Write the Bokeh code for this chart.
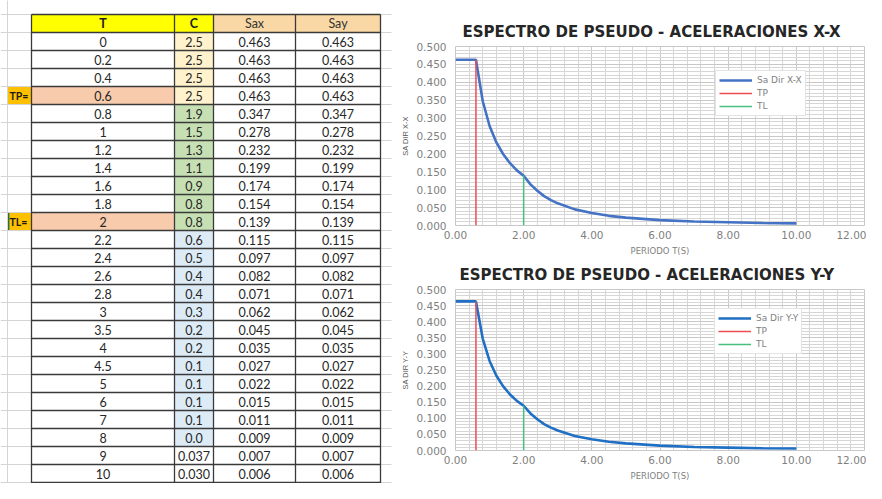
from bokeh.plotting import figure
from bokeh.layouts import row, column
from bokeh.models import (Range1d, SingleIntervalTicker, NumeralTickFormatter,
                          Legend, LegendItem)
from bokeh.core.properties import value
from bokeh.embed import file_html
from bokeh.resources import INLINE

# ---------------- data ----------------
T = [0, 0.2, 0.4, 0.6, 0.8, 1, 1.2, 1.4, 1.6, 1.8, 2, 2.2, 2.4, 2.6, 2.8,
     3, 3.5, 4, 4.5, 5, 6, 7, 8, 9, 10]
T_labels = ["0", "0.2", "0.4", "0.6", "0.8", "1", "1.2", "1.4", "1.6", "1.8",
            "2", "2.2", "2.4", "2.6", "2.8", "3", "3.5", "4", "4.5", "5",
            "6", "7", "8", "9", "10"]
C_labels = ["2.5", "2.5", "2.5", "2.5", "1.9", "1.5", "1.3", "1.1", "0.9",
            "0.8", "0.8", "0.6", "0.5", "0.4", "0.4", "0.3", "0.2", "0.2",
            "0.1", "0.1", "0.1", "0.1", "0.0", "0.037", "0.030"]
Sax = [0.463, 0.463, 0.463, 0.463, 0.347, 0.278, 0.232, 0.199, 0.174, 0.154,
       0.139, 0.115, 0.097, 0.082, 0.071, 0.062, 0.045, 0.035, 0.027, 0.022,
       0.015, 0.011, 0.009, 0.007, 0.006]
Say = [0.463, 0.463, 0.463, 0.463, 0.347, 0.278, 0.232, 0.199, 0.174, 0.154,
       0.139, 0.115, 0.097, 0.082, 0.071, 0.062, 0.045, 0.035, 0.027, 0.022,
       0.015, 0.011, 0.009, 0.007, 0.006]
headers = ["T", "C", "Sax", "Say"]
TP = 0.6
TL = 2
x_axis_title = "PERIODO T(S)"

# ---------------- table (spreadsheet) ----------------
EDGES = [7, 31, 174, 213, 295, 380]      # gutter | T | C | Sax | Say
TOP = 14.0
ROW_H = 18.0
n = len(T)
TBL_W, TOTAL_H = 395, 483

tbl = figure(width=TBL_W, height=TOTAL_H, x_range=Range1d(0, TBL_W),
             y_range=Range1d((TOTAL_H - TOP) / ROW_H, (0 - TOP) / ROW_H),
             output_backend="svg", toolbar_location=None,
             x_axis_type=None, y_axis_type=None, min_border=0)
tbl.outline_line_color = None
tbl.background_fill_color = "white"

FONT = value("Lato")
TXT = "#262626"
FS = "12.5px"

# header fills
hdr_fill = ["#FFFF00", "#FFFF00", "#F9D8A5", "#F9D8A5"]
tbl.quad(left=EDGES[1:5], right=EDGES[2:6], top=[0] * 4, bottom=[1] * 4,
         fill_color=hdr_fill, line_color=None)

# data cell fills
rows_top = [i + 1 for i in range(n)]
rows_bot = [i + 2 for i in range(n)]
t_fill = ["#F8CBAD" if t in (TP, TL) else "white" for t in T]
c_fill = []
for i, t in enumerate(T):
    if i >= n - 2:
        c_fill.append("white")
    elif t <= TP:
        c_fill.append("#FFF2CC")
    elif t <= TL:
        c_fill.append("#C6E0B4")
    else:
        c_fill.append("#DDEBF7")
tbl.quad(left=EDGES[1], right=EDGES[2], top=rows_top, bottom=rows_bot,
         fill_color=t_fill, line_color=None)
tbl.quad(left=EDGES[2], right=EDGES[3], top=rows_top, bottom=rows_bot,
         fill_color=c_fill, line_color=None)

# gutter markers TP= / TL=
i_tp = T.index(TP)
i_tl = T.index(TL)
tbl.quad(left=EDGES[0], right=EDGES[1], top=[i_tp + 1, i_tl + 1],
         bottom=[i_tp + 2, i_tl + 2], fill_color="#FFC000", line_color=None)
tbl.segment(x0=EDGES[0] + 0.8, x1=EDGES[0] + 0.8, y0=i_tl + 1, y1=i_tl + 2,
            line_color="#217346", line_width=2.2)
tbl.text(x=[EDGES[0] + 2, EDGES[0] + 2], y=[i_tp + 1.5, i_tl + 1.5],
         text=["TP=", "TL="], text_align="left", text_baseline="middle",
         text_font=FONT, text_font_size="10.5px", text_font_style="bold",
         text_color="#1a1a1a")

# spreadsheet light grid
bounds = list(range(0, n + 2))
tbl.segment(x0=[0] * len(bounds), x1=[391] * len(bounds),
            y0=bounds, y1=bounds, line_color="#D4D4D4", line_width=1)
tbl.segment(x0=EDGES[0], x1=EDGES[0], y0=-1, y1=n + 2,
            line_color="#D4D4D4", line_width=1)

# table dark borders
tbl.segment(x0=[EDGES[1]] * len(bounds), x1=[EDGES[5]] * len(bounds),
            y0=bounds, y1=bounds, line_color="#3A3A3A", line_width=1.3)
tbl.segment(x0=EDGES[1:], x1=EDGES[1:], y0=[0] * 5, y1=[n + 2] * 5,
            line_color="#3A3A3A", line_width=1.3)

# header texts
centers = [(EDGES[k] + EDGES[k + 1]) / 2 for k in range(1, 5)]
tbl.text(x=centers[:2], y=[0.5, 0.5], text=headers[:2], text_align="center",
         text_baseline="middle", text_font=FONT, text_font_size=FS,
         text_font_style="bold", text_color="#1a1a1a")
tbl.text(x=centers[2:], y=[0.5, 0.5], text=headers[2:], text_align="center",
         text_baseline="middle", text_font=FONT, text_font_size=FS,
         text_color="#333333")

# data texts
ymid = [i + 1.5 for i in range(n)]
for k, col in enumerate([T_labels, C_labels,
                         ["%.3f" % v for v in Sax],
                         ["%.3f" % v for v in Say]]):
    tbl.text(x=[centers[k]] * n, y=ymid, text=col, text_align="center",
             text_baseline="middle", text_font=FONT, text_font_size=FS,
             text_color=TXT)


# ---------------- charts ----------------
CH_W = 471


def make_chart(title, ylabel, series, sa_label, sa_color, height,
               borders, legend_loc, title_offset):
    left, right, top, bottom = borders
    p = figure(width=CH_W, height=height, x_range=Range1d(0, 12),
               y_range=Range1d(0, 0.5), output_backend="svg",
               toolbar_location=None, min_border_left=left,
               min_border_right=right, min_border_top=top,
               min_border_bottom=bottom)
    p.title.text = title
    p.title.align = "left"
    p.title.offset = title_offset
    p.title.text_font = "DejaVu Sans"
    p.title.text_font_size = "15px"
    p.title.text_font_style = "bold"
    p.title.text_color = "#262626"
    p.title.standoff = 11

    xt = SingleIntervalTicker(interval=2, num_minor_ticks=5)
    yt = SingleIntervalTicker(interval=0.05, num_minor_ticks=5)
    p.xaxis.ticker = xt
    p.yaxis.ticker = yt
    p.xgrid.ticker = xt
    p.ygrid.ticker = yt
    p.xaxis.formatter = NumeralTickFormatter(format="0.00")
    p.yaxis.formatter = NumeralTickFormatter(format="0.000")

    for g in (p.xgrid, p.ygrid):
        g.grid_line_color = "#C8C8C8"
        g.grid_line_width = 1
        g.minor_grid_line_color = "#D6D6D6"
        g.minor_grid_line_width = 1
    p.outline_line_color = "#C8C8C8"

    for ax in (p.xaxis, p.yaxis):
        ax.axis_line_color = None
        ax.major_tick_line_color = None
        ax.minor_tick_line_color = None
        ax.major_tick_out = 0
        ax.minor_tick_out = 0
        ax.major_tick_in = 0
        ax.minor_tick_in = 0
        ax.major_label_text_font = "DejaVu Sans"
        ax.major_label_text_font_size = "10.5px"
        ax.major_label_text_color = "#7F7F7F"
        ax.axis_label_text_font_style = "normal"
    p.xaxis.major_label_standoff = 5
    p.yaxis.major_label_standoff = 9
    p.xaxis.axis_label = x_axis_title
    p.xaxis.axis_label_text_font = "DejaVu Sans"
    p.xaxis.axis_label_text_font_size = "8.5px"
    p.xaxis.axis_label_text_color = "#7F7F7F"
    p.xaxis.axis_label_standoff = 4
    p.yaxis.axis_label = ylabel
    p.yaxis.axis_label_text_font = "Liberation Sans"
    p.yaxis.axis_label_text_font_size = "7.5px"
    p.yaxis.axis_label_text_color = "#595959"
    p.yaxis.axis_label_standoff = 3

    sa = p.line(T, series, line_color=sa_color, line_width=2.6)
    tp = p.line([TP, TP], [0, series[T.index(TP)]], line_color="#EE4B55",
                line_width=1.5)
    tl = p.line([TL, TL], [0, series[T.index(TL)]], line_color="#45C07F",
                line_width=1.5)

    leg = Legend(items=[LegendItem(label=sa_label, renderers=[sa]),
                        LegendItem(label="TP", renderers=[tp]),
                        LegendItem(label="TL", renderers=[tl])],
                 location=legend_loc)
    leg.border_line_color = "#C8C8C8"
    leg.background_fill_color = "white"
    leg.background_fill_alpha = 1
    leg.label_text_font = "DejaVu Sans"
    leg.label_text_font_size = "9px"
    leg.label_text_color = "#7F7F7F"
    leg.glyph_width = 33
    leg.glyph_height = 12
    leg.label_height = 12
    leg.label_standoff = 5
    leg.spacing = 1
    leg.padding = 3
    leg.margin = 0
    p.add_layout(leg)
    return p


ch1 = make_chart("ESPECTRO DE PSEUDO - ACELERACIONES X-X", "SA DIR X-X",
                 Sax, "Sa Dir X-X", "#4472C4", 258, (60, 2, 46, 30),
                 (260, 109), 7)
ch2 = make_chart("ESPECTRO DE PSEUDO - ACELERACIONES Y-Y", "SA DIR Y-Y",
                 Say, "Sa Dir Y-Y", "#1F6FC5", TOTAL_H - 258, (59, 2, 31, 29),
                 (259, 96), 4)

layout = row(tbl, column(ch1, ch2))
open("out.html", "w").write(file_html(layout, INLINE))
